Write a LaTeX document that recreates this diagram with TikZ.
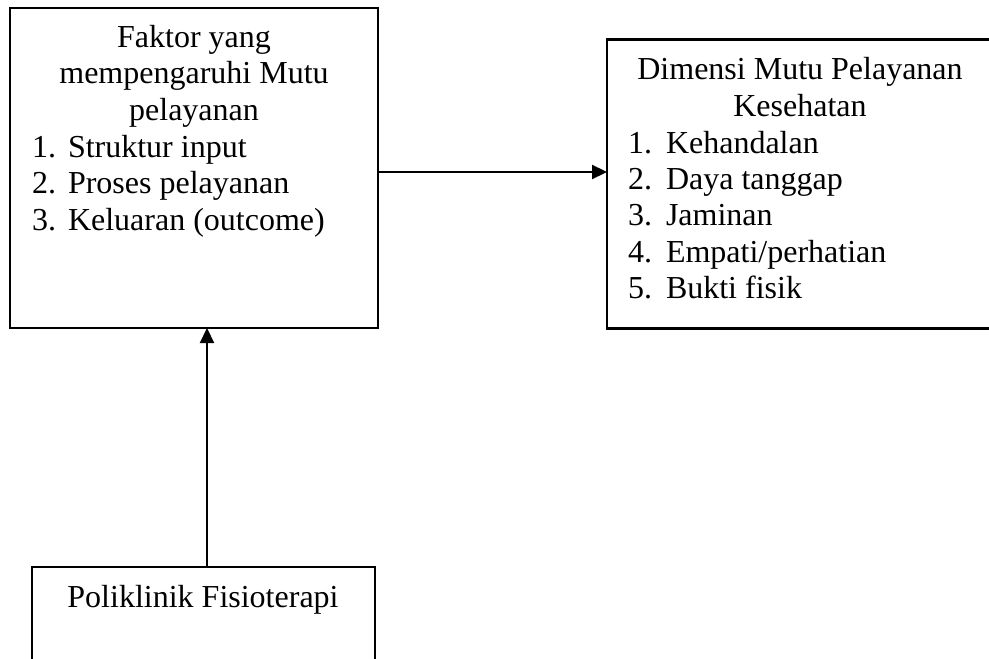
\documentclass[tikz,border=0pt]{standalone}
\usepackage{fontspec}
\setmainfont{Liberation Serif}
\usetikzlibrary{arrows.meta}
\begin{document}
\begin{tikzpicture}[x=1pt,y=-1pt,
  every node/.style={inner sep=0pt,outer sep=0pt,font=\fontsize{32}{36}\selectfont},
  boxthick/.style={draw,line width=2.2pt,inner sep=0pt},
  boxthin/.style={draw,line width=1.6pt,inner sep=0pt},
  arr/.style={line width=2.2pt,-{Triangle[length=15pt,width=14pt]}},
  ctr/.style={anchor=base},
  lft/.style={anchor=base west}]
\useasboundingbox (0,0) rectangle (989,659);
\clip (0,0) rectangle (989,659);
% boxes
\node[boxthick,minimum width=368pt,minimum height=320pt] (box1) at (194,168) {};
\node[boxthick,minimum width=392pt,minimum height=289pt] (box2) at (803,184) {};
\node[boxthin,minimum width=343pt,minimum height=120pt] (box3) at (203.5,627) {};
% box 1 text
\node[ctr] (t1a) at (194,47) {Faktor yang};
\node[ctr] (t1b) at (194,83) {mempengaruhi Mutu};
\node[ctr] (t1c) at (194,120) {pelayanan};
\node[lft] (n11) at (32,157) {1.};
\node[lft] (l11) at (68,157) {Struktur input};
\node[lft] (n12) at (32,193) {2.};
\node[lft] (l12) at (68,193) {Proses pelayanan};
\node[lft] (n13) at (32,230) {3.};
\node[lft] (l13) at (68,230) {Keluaran (outcome)};
% box 2 text
\node[ctr] (t2a) at (800,79) {Dimensi Mutu Pelayanan};
\node[ctr] (t2b) at (800,116) {Kesehatan};
\node[lft] (n21) at (628,153) {1.};
\node[lft] (l21) at (666,153) {Kehandalan};
\node[lft] (n22) at (628,189) {2.};
\node[lft] (l22) at (666,189) {Daya tanggap};
\node[lft] (n23) at (628,225) {3.};
\node[lft] (l23) at (666,225) {Jaminan};
\node[lft] (n24) at (628,262) {4.};
\node[lft] (l24) at (666,262) {Empati/perhatian};
\node[lft] (n25) at (628,298) {5.};
\node[lft] (l25) at (666,298) {Bukti fisik};
% box 3 text
\node[ctr] (t3) at (203,607) {Poliklinik Fisioterapi};
% connectors
\coordinate (h) at (0,172);
\coordinate (v) at (207,0);
\draw[arr] (box1.east |- h) -- (box2.west |- h);
\draw[arr] (box3.north -| v) -- (box1.south -| v);
\end{tikzpicture}
\end{document}
